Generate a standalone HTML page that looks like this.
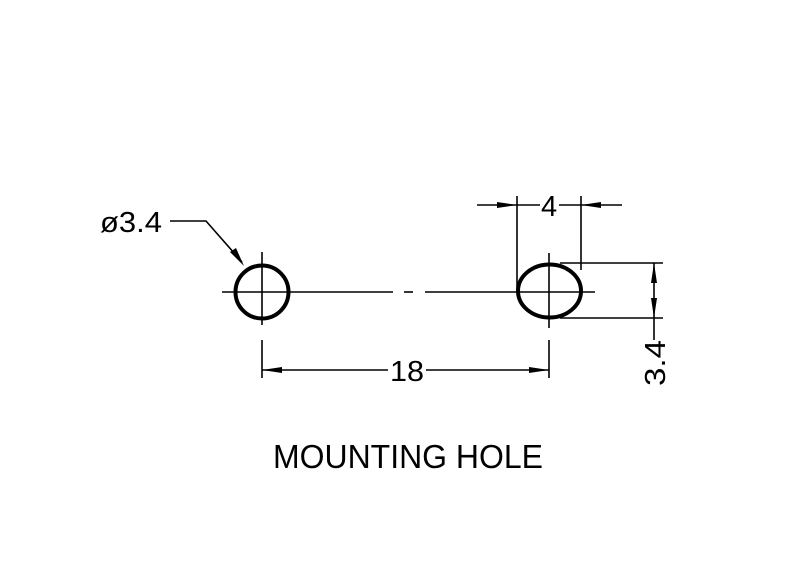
<!DOCTYPE html>
<html><head><style>html,body{margin:0;padding:0;background:#fff}svg{display:block}</style></head>
<body>
<svg width="800" height="576" viewBox="0 0 800 576" xmlns="http://www.w3.org/2000/svg">
<g stroke="#000" fill="none" stroke-width="1.6">
<!-- holes -->
<circle cx="262" cy="292" r="26.5" stroke-width="4"/>
<ellipse cx="549.5" cy="291" rx="31.5" ry="26.5" stroke-width="4"/>
<!-- centerlines -->
<line x1="222" y1="292" x2="393" y2="292"/>
<line x1="404" y1="292" x2="413" y2="292"/>
<line x1="425" y1="292" x2="595" y2="292"/>
<line x1="262" y1="252" x2="262" y2="325"/>
<line x1="549" y1="253" x2="549" y2="328"/>
<!-- 18 dim -->
<line x1="262" y1="340" x2="262" y2="378"/>
<line x1="549" y1="340" x2="549" y2="378"/>
<line x1="262" y1="370" x2="388" y2="370"/>
<line x1="426" y1="370" x2="549" y2="370"/>
<!-- 4 dim -->
<line x1="517" y1="196" x2="517" y2="290"/>
<line x1="581" y1="196" x2="581" y2="270"/>
<line x1="477" y1="205" x2="540" y2="205"/>
<line x1="559" y1="205" x2="622" y2="205"/>
<!-- 3.4 dim -->
<line x1="560" y1="263" x2="663" y2="263"/>
<line x1="560" y1="318" x2="663" y2="318"/>
<line x1="654" y1="263" x2="654" y2="340"/>
<!-- leader -->
<polyline points="170,221 206,221 242,262"/>
</g>
<g fill="#000">
<polygon points="262,370 282,367 282,373"/>
<polygon points="549,370 529,367 529,373"/>
<polygon points="517,205 497,202 497,208"/>
<polygon points="581,205 601,202 601,208"/>
<polygon points="654,263 651,283 657,283"/>
<polygon points="654,318 651,298 657,298"/>
<polygon points="244,266 230,252 236,248"/>
</g>
<g font-family="Liberation Sans, sans-serif" fill="#000">
<text x="100" y="232" font-size="29" textLength="62" lengthAdjust="spacingAndGlyphs">ø3.4</text>
<text x="390" y="381" font-size="29" textLength="34" lengthAdjust="spacingAndGlyphs">18</text>
<text x="541" y="216" font-size="29">4</text>
<text transform="translate(665,386) rotate(-90)" font-size="29" textLength="46" lengthAdjust="spacingAndGlyphs">3.4</text>
<text x="273" y="468" font-size="33" textLength="270" lengthAdjust="spacingAndGlyphs">MOUNTING  HOLE</text>
</g>
</svg>
</body></html>
